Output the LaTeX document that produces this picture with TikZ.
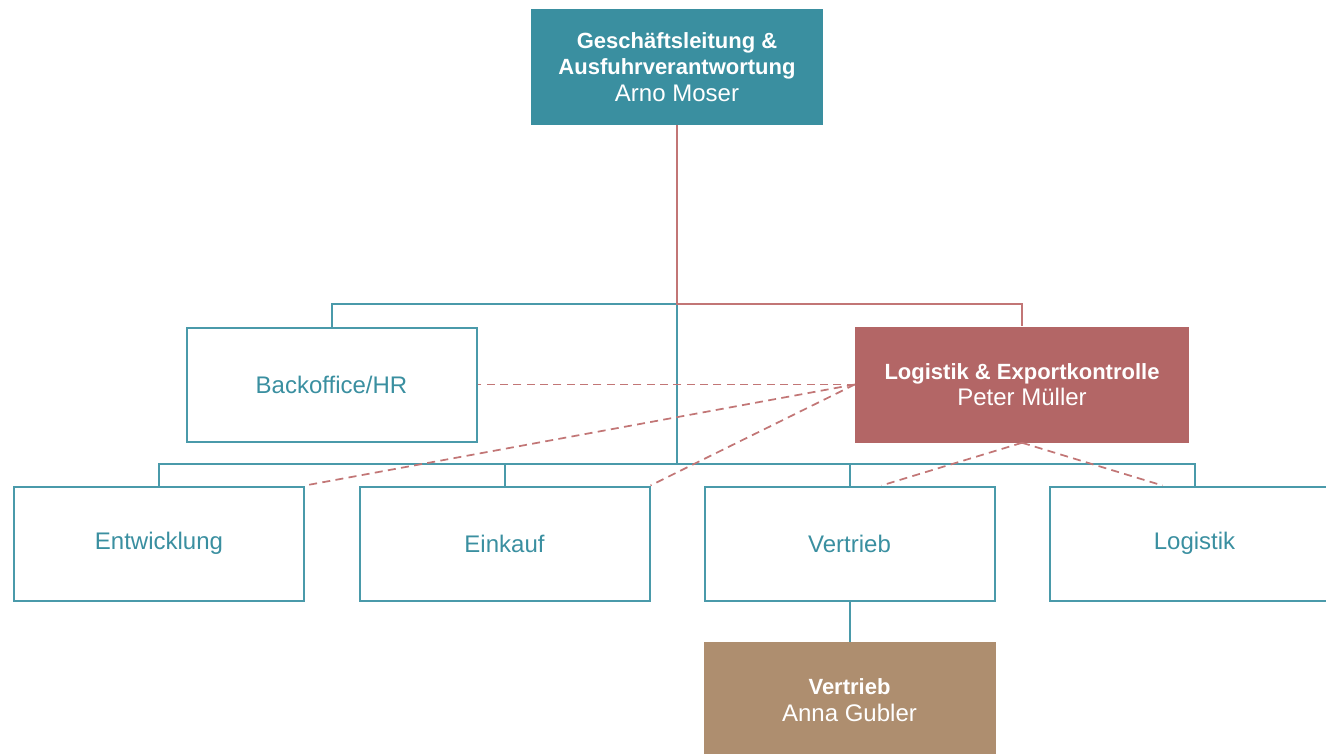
\documentclass[tikz,border=0pt]{standalone}
\usepackage{fontspec}
\setmainfont{Liberation Sans}
\usetikzlibrary{positioning}
\definecolor{tl}{RGB}{58,143,160}
\definecolor{tlline}{RGB}{74,154,170}
\definecolor{rd}{RGB}{179,102,102}
\definecolor{rdline}{RGB}{194,118,118}
\definecolor{br}{RGB}{174,142,111}
\newcommand{\hd}[1]{{\fontsize{16.5}{20}\selectfont\bfseries #1}}

\begin{document}
\begin{tikzpicture}[x=0.75pt,y=-0.75pt,
    unit/.style={draw=tlline, line width=1.5pt, text=tl, minimum width=217.5pt, minimum height=85.5pt,
        inner sep=0pt, align=center, font=\fontsize{18}{20}\selectfont},
    head/.style={fill=#1, text=white, minimum width=219pt, minimum height=87pt,
        inner sep=0pt, align=center, font=\fontsize{18}{20}\selectfont},
    tline/.style={tlline, line width=1.5pt},
    rline/.style={rdline, line width=1.5pt},
    dline/.style={rdline, line width=1.3pt, dash pattern=on 6pt off 4pt}]
        \useasboundingbox (0,0) rectangle (1326,753);
        \clip (0,0) rectangle (1326,753);
        \node[head=tl] (gl) at (677,67) {\hd{Geschäftsleitung \&}\\\hd{Ausfuhrverantwortung}\\Arno Moser};
        \node[unit] (bo) at (331.5,384.5) {Backoffice/HR};
        \node[head=rd, minimum width=250.5pt] (le) at (1022,384.5) {\hd{Logistik \& Exportkontrolle}\\Peter Müller};
        \node[unit] (ent) at (159,543.5) {Entwicklung};
        \node[unit] (ein) at (504.5,543.5) {Einkauf};
        \node[unit] (ver) at (849.5,543.5) {Vertrieb};
        \node[unit] (log) at (1194.5,543.5) {Logistik};
        \node[head=br] (anna) at (849.5,700) {\hd{Vertrieb}\\Anna Gubler};
        \coordinate (top) at (677,304);
        \coordinate (row) at (677,464);
        % solid lines
        \draw[tline] (top) -| (bo.north);
        \draw[tline] (top) -- (row);
        \foreach \n in {ent,ein,ver,log}
            \draw[tline] (row) -| (\n.north);
        \draw[tline] (ver.south) -- (anna.north);
        \draw[rline] (gl.south) -- (top) -| (le.north);
        % dashed lines
        \draw[dline] (le.west) -- (bo.east);
        \draw[dline] (le.west) -- (ent.north east);
        \draw[dline] (le.west) -- (ein.north east);
        \draw[dline] (le.south) -- ([xshift=24pt]ver.north);
        \draw[dline] (le.south) -- ([xshift=-24pt]log.north);
\end{tikzpicture}
\end{document}
